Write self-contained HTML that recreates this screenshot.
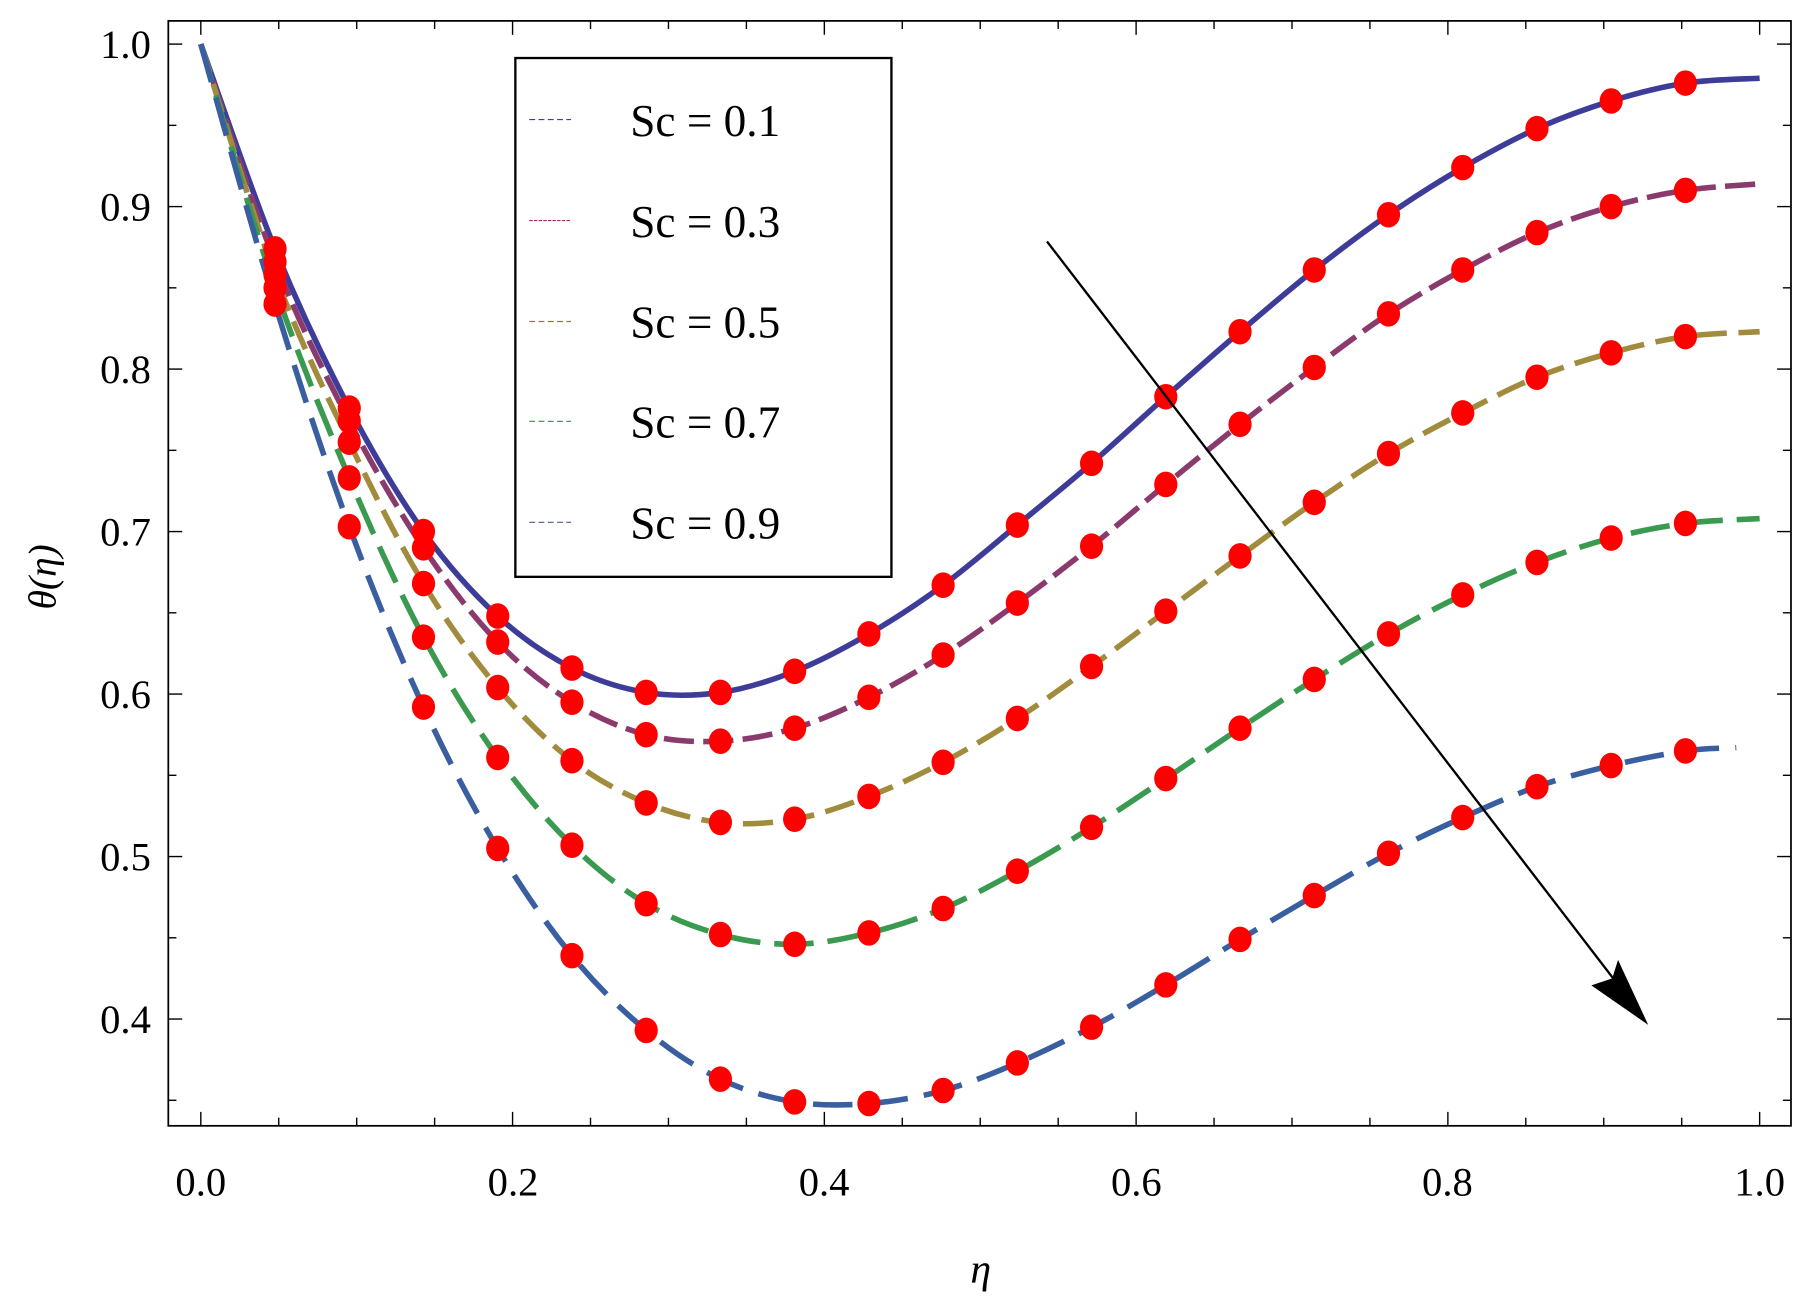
<!DOCTYPE html>
<html><head><meta charset="utf-8"><style>
html,body{margin:0;padding:0;background:#fff;}
svg{display:block;}
text{font-family:"Liberation Serif","Times New Roman",serif;fill:#000;}
</style></head><body>
<svg id="s" width="1820" height="1315" viewBox="0 0 1568 1133" preserveAspectRatio="none" xmlns="http://www.w3.org/2000/svg">
<rect x="0" y="0" width="1568" height="1133" fill="#fff"/>
<g id="curves"></g>
<g id="marks"></g>
<rect x="145" y="18" width="1398" height="952" fill="none" stroke="#000" stroke-width="1.5"/>
<g id="ticks" stroke="#000" stroke-width="1.2"></g>
<g font-size="35" text-anchor="end" font-family="Liberation Serif, serif">
<text x="130" y="50">1.0</text><text x="130" y="190">0.9</text><text x="130" y="330">0.8</text>
<text x="130" y="470">0.7</text><text x="130" y="610">0.6</text><text x="130" y="750">0.5</text><text x="130" y="890">0.4</text>
</g>
<g font-size="35" text-anchor="middle" font-family="Liberation Serif, serif">
<text x="173" y="1030">0.0</text><text x="442" y="1030">0.2</text><text x="710" y="1030">0.4</text>
<text x="979" y="1030">0.6</text><text x="1247" y="1030">0.8</text><text x="1516" y="1030">1.0</text>
</g>
<text x="845" y="1105" font-size="36" font-style="italic" text-anchor="middle" font-family="Liberation Serif, serif">η</text>
<text transform="translate(48,497) rotate(-90)" font-size="34" font-style="italic" text-anchor="middle" font-family="Liberation Serif, serif">θ(η)</text>
<line x1="902" y1="208" x2="1396" y2="851" stroke="#000" stroke-width="2"/>
<polygon points="1420,883 1371,849 1389,843 1394,827" fill="#000"/>
<rect x="444" y="50" width="324" height="447" fill="#fff" stroke="#000" stroke-width="2"/>
<g stroke-width="1" stroke-dasharray="5,3">
<line x1="456" y1="103" x2="492" y2="103" stroke="#3d3d99"/>
<line x1="456" y1="190" x2="492" y2="190" stroke="#a03060" stroke-dasharray="3,1"/>
<line x1="456" y1="277" x2="492" y2="277" stroke="#8a7a40"/>
<line x1="456" y1="363" x2="492" y2="363" stroke="#3a8a50"/>
<line x1="456" y1="450" x2="492" y2="450" stroke="#4a5a90"/>
</g>
<g font-size="39" font-family="Liberation Serif, serif">
<text x="543" y="117">Sc = 0.1</text><text x="543" y="204">Sc = 0.3</text><text x="543" y="291">Sc = 0.5</text>
<text x="543" y="377">Sc = 0.7</text><text x="543" y="464">Sc = 0.9</text>
</g>
</svg>
<script>
var NS="http://www.w3.org/2000/svg";
function X(x){return 173+1343*x;} function Y(y){return 38+(1-y)*1400;}
var data=[
[1.0,0.874,0.776,0.700,0.648,0.616,0.601,0.601,0.614,0.637,0.667,0.704,0.742,0.783,0.823,0.861,0.895,0.924,0.948,0.965,0.976,0.979],
[1.0,0.866,0.768,0.690,0.632,0.595,0.575,0.571,0.579,0.598,0.624,0.656,0.691,0.729,0.766,0.801,0.834,0.861,0.884,0.900,0.910,0.914],
[1.0,0.858,0.755,0.668,0.604,0.559,0.533,0.521,0.523,0.537,0.558,0.585,0.617,0.651,0.685,0.718,0.748,0.773,0.795,0.810,0.820,0.823],
[1.0,0.850,0.733,0.635,0.561,0.507,0.471,0.452,0.446,0.453,0.468,0.491,0.518,0.548,0.579,0.609,0.637,0.661,0.681,0.696,0.705,0.708],
[1.0,0.840,0.703,0.592,0.505,0.439,0.393,0.363,0.349,0.348,0.356,0.373,0.395,0.421,0.449,0.476,0.502,0.524,0.543,0.556,0.565,0.567]];
var cols=["#3d3d99","#8b3a6e","#a08c3c","#3a9a50","#3a5fa0"];
var dash=["none","26,8","26,10","34,12","34,14"];
var cg=document.getElementById("curves"),mg=document.getElementById("marks");
data.forEach(function(d,i){
 var pts=d.map(function(v,k){var xx=k/21; if(k==21) xx=(i==4?0.985:1.0); return [X(xx),Y(v)];});
 var p="M"+pts[0][0]+","+pts[0][1];
 for(var k=0;k<pts.length-1;k++){
  var p0=pts[Math.max(0,k-1)],p1=pts[k],p2=pts[k+1],p3=pts[Math.min(pts.length-1,k+2)];
  var c1x=p1[0]+(p2[0]-p0[0])/6,c1y=p1[1]+(p2[1]-p0[1])/6,c2x=p2[0]-(p3[0]-p1[0])/6,c2y=p2[1]-(p3[1]-p1[1])/6;
  p+=" C"+c1x+","+c1y+" "+c2x+","+c2y+" "+p2[0]+","+p2[1];
 }
 var e=document.createElementNS(NS,"path");e.setAttribute("d",p);e.setAttribute("fill","none");
 e.setAttribute("stroke",cols[i]);e.setAttribute("stroke-width","4.8");
 if(dash[i]!="none")e.setAttribute("stroke-dasharray",dash[i]);cg.appendChild(e);
 for(var k=1;k<=20;k++){var c=document.createElementNS(NS,"ellipse");c.setAttribute("cx",X(k/21));c.setAttribute("cy",Y(d[k]));
  c.setAttribute("rx","10");c.setAttribute("ry","11");c.setAttribute("fill","#ff0000");mg.appendChild(c);}
});
var tg=document.getElementById("ticks");
function L(a,b,c,d){var l=document.createElementNS(NS,"line");l.setAttribute("x1",a);l.setAttribute("y1",b);l.setAttribute("x2",c);l.setAttribute("y2",d);tg.appendChild(l);}
for(var j=0;j<=20;j++){var x=X(j*0.05),len=(j%4==0)?12:7;L(x,970,x,970-len);L(x,18,x,18+len);}
for(var j=0;j<=13;j++){var v=1-j*0.05,y=Y(v);if(y>970)break;var len=(j%2==0)?12:7;L(145,y,145+len,y);L(1543,y,1543-len,y);}
</script>
</body></html>
